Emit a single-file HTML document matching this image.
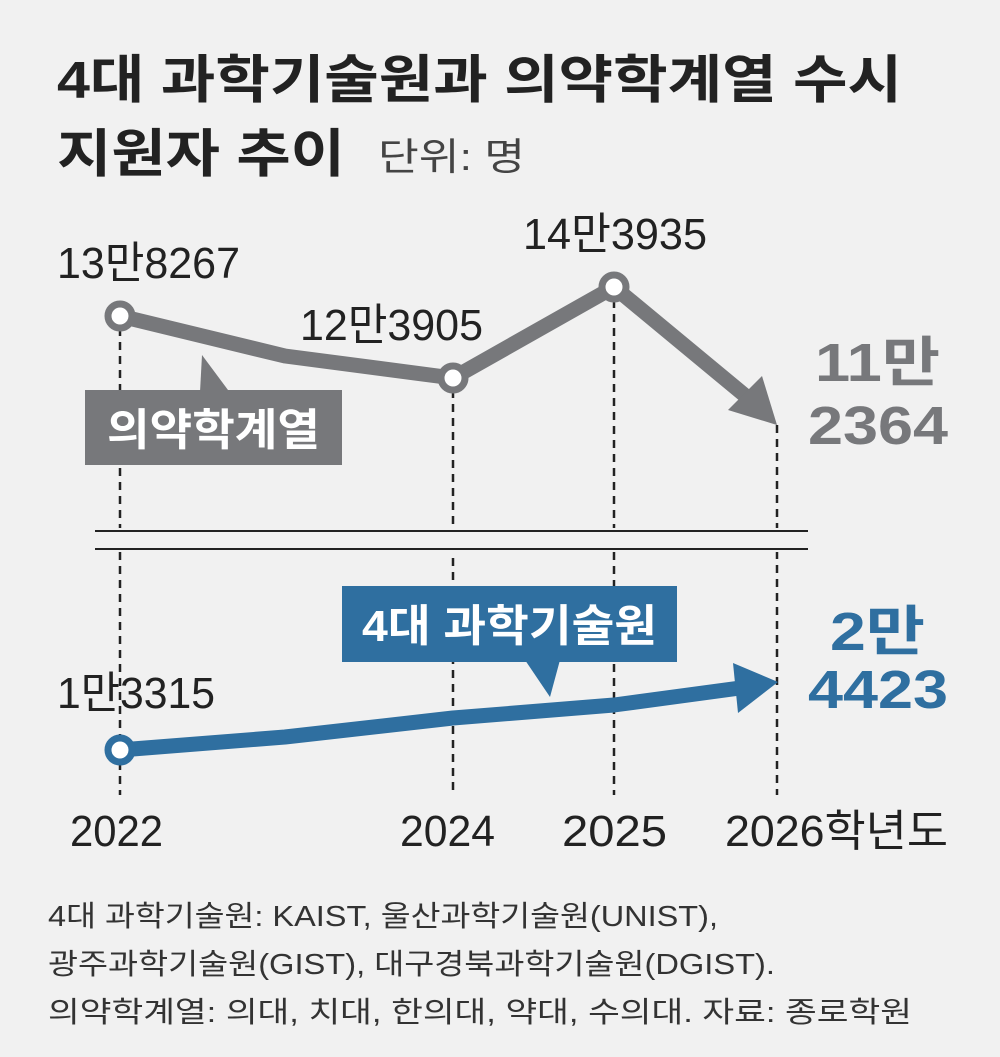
<!DOCTYPE html>
<html><head><meta charset="utf-8"><style>
body{margin:0;background:#f1f1f1;}
svg{display:block}
text{font-family:"Liberation Sans","Noto Sans CJK KR",sans-serif;}
</style></head><body>
<svg width="1000" height="1057" viewBox="0 0 1000 1057" xmlns="http://www.w3.org/2000/svg">
<rect width="1000" height="1057" fill="#f1f1f1"/>
<text x="57" y="98" font-size="52" font-weight="bold" fill="#222" textLength="845" lengthAdjust="spacingAndGlyphs">4대 과학기술원과 의약학계열 수시</text>
<text x="57" y="172" font-size="52" font-weight="bold" fill="#222" textLength="288" lengthAdjust="spacingAndGlyphs">지원자 추이</text>
<text x="378" y="170" font-size="38" fill="#444" textLength="147" lengthAdjust="spacingAndGlyphs">단위: 명</text>
<g stroke="#222" stroke-width="2.5" stroke-dasharray="8,6">
<line x1="120" y1="328" x2="120" y2="795"/>
<line x1="453" y1="390" x2="453" y2="795"/>
<line x1="614" y1="300" x2="614" y2="795"/>
<line x1="777" y1="425" x2="777" y2="795"/>
</g>
<rect x="90" y="528" width="720" height="24" fill="#f1f1f1"/>
<line x1="95" y1="531" x2="808" y2="531" stroke="#222" stroke-width="2"/>
<line x1="95" y1="549" x2="808" y2="549" stroke="#222" stroke-width="2"/>
<polyline points="120,316 285,356 453,378 614,287 748,398" fill="none" stroke="#77787b" stroke-width="15" stroke-linejoin="round"/>
<polygon points="777,425 728,410 762,376" fill="#77787b"/>
<circle cx="120" cy="316" r="12" fill="#fff" stroke="#77787b" stroke-width="7"/>
<circle cx="453" cy="378" r="12" fill="#fff" stroke="#77787b" stroke-width="7"/>
<circle cx="614" cy="287" r="12" fill="#fff" stroke="#77787b" stroke-width="7"/>
<polygon points="202,355 228,390 200,392" fill="#77787b"/>
<rect x="85" y="390" width="257" height="75" fill="#77787b"/>
<text x="107" y="445" font-size="44" font-weight="bold" fill="#fff" textLength="213" lengthAdjust="spacingAndGlyphs">의약학계열</text>
<polyline points="120,750 285,737 453,718 614,705 740,688" fill="none" stroke="#2f6fa0" stroke-width="15" stroke-linejoin="round"/>
<polygon points="778,682 733,663 738,713" fill="#2f6fa0"/>
<circle cx="120" cy="750" r="12" fill="#fff" stroke="#2f6fa0" stroke-width="7"/>
<polygon points="525,660 560,660 550,697" fill="#2f6fa0"/>
<rect x="342" y="586" width="335" height="76" fill="#2f6fa0"/>
<text x="362" y="641" font-size="44" font-weight="bold" fill="#fff" textLength="295" lengthAdjust="spacingAndGlyphs">4대 과학기술원</text>
<g font-size="44" fill="#222" lengthAdjust="spacingAndGlyphs">
<text x="57" y="278" textLength="183" lengthAdjust="spacingAndGlyphs">13만8267</text>
<text x="300" y="340" textLength="183" lengthAdjust="spacingAndGlyphs">12만3905</text>
<text x="523" y="249" textLength="184" lengthAdjust="spacingAndGlyphs">14만3935</text>
<text x="57" y="708" textLength="158" lengthAdjust="spacingAndGlyphs">1만3315</text>
<text x="70" y="846" textLength="93" lengthAdjust="spacingAndGlyphs">2022</text>
<text x="400" y="846" textLength="95" lengthAdjust="spacingAndGlyphs">2024</text>
<text x="562" y="846" textLength="105" lengthAdjust="spacingAndGlyphs">2025</text>
<text x="725" y="846" textLength="223" lengthAdjust="spacingAndGlyphs">2026학년도</text>
</g>
<g font-size="54" font-weight="bold">
<text x="815" y="381" fill="#77787b" textLength="125" lengthAdjust="spacingAndGlyphs">11만</text>
<text x="808" y="444" fill="#77787b" textLength="140" lengthAdjust="spacingAndGlyphs">2364</text>
<text x="830" y="650" fill="#2f6fa0" textLength="95" lengthAdjust="spacingAndGlyphs">2만</text>
<text x="808" y="708" fill="#2f6fa0" textLength="140" lengthAdjust="spacingAndGlyphs">4423</text>
</g>
<g font-size="29" fill="#333">
<text x="48" y="926" textLength="670" lengthAdjust="spacingAndGlyphs">4대 과학기술원: KAIST, 울산과학기술원(UNIST),</text>
<text x="48" y="974" textLength="727" lengthAdjust="spacingAndGlyphs">광주과학기술원(GIST), 대구경북과학기술원(DGIST).</text>
<text x="48" y="1022" textLength="864" lengthAdjust="spacingAndGlyphs">의약학계열: 의대, 치대, 한의대, 약대, 수의대. 자료: 종로학원</text>
</g>
</svg>
</body></html>
